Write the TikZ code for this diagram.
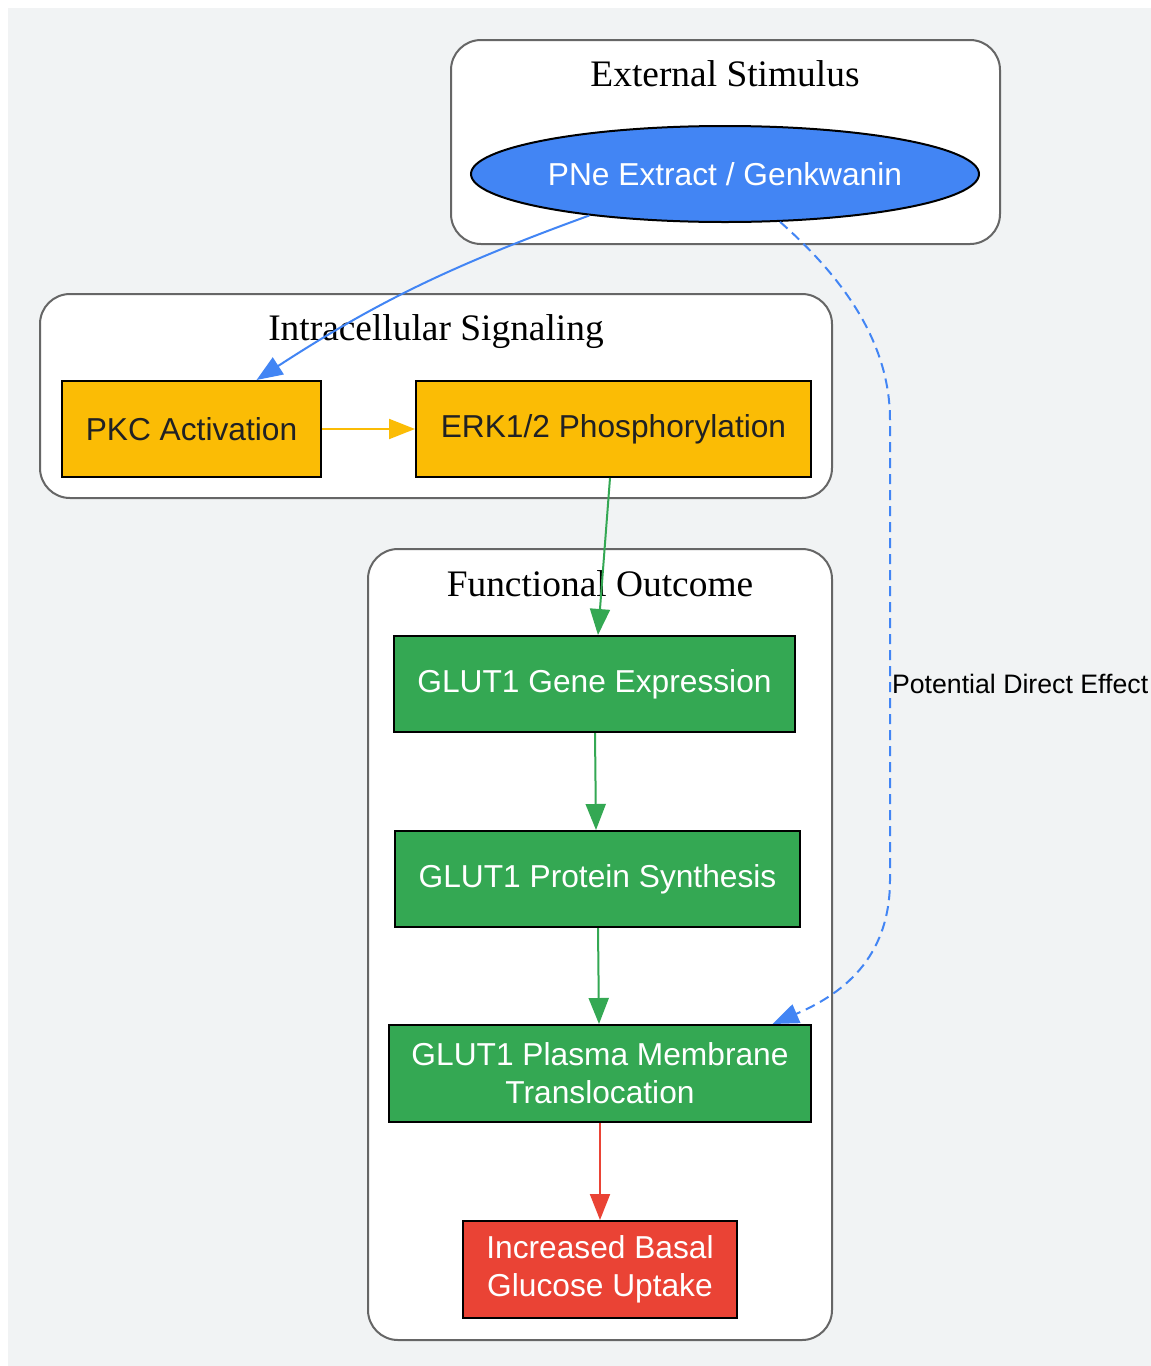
\documentclass[tikz,border=0pt]{standalone}
\usepackage{xcolor}
\usepackage{fontspec}
\setmainfont{Liberation Serif}
\newfontfamily\arialfont{Liberation Sans}
\usepackage{tikz}
\usetikzlibrary{shapes,arrows.meta,positioning}

\definecolor{bggray}{HTML}{F1F3F4}
\definecolor{clustergray}{HTML}{666666}
\definecolor{gblue}{HTML}{4285F4}
\definecolor{gyellow}{HTML}{FBBC05}
\definecolor{ggreen}{HTML}{34A853}
\definecolor{gred}{HTML}{EA4335}
\definecolor{darktext}{HTML}{202124}

\tikzset{
    cluster/.style={draw=clustergray, line width=2pt, fill=white, rounded corners=30pt},
    clustertitle/.style={font=\fontsize{37.4}{42}\selectfont, inner sep=0pt},
    stepbox/.style={rectangle, draw=black, line width=2pt, inner sep=0pt,
        minimum height=96pt, font=\arialfont\fontsize{31.7}{38}\selectfont, align=center},
    flow/.style={line width=2pt, -{Triangle[length=26pt,width=20pt]}}
}

\begin{document}
\begin{tikzpicture}[x=1pt, y=-1pt]
                \useasboundingbox (0,0) rectangle (1151,1366);
                \fill[bggray] (8,8) rectangle (1151,1366);

                \draw[cluster] (451,40) rectangle (1000,244);
                \node[clustertitle] (exttitle) at (725,74) {External Stimulus};

                \draw[cluster] (40,294) rectangle (832,498);
                \node[clustertitle] (sigtitle) at (436,332) {Intracellular Signaling};

                \draw[cluster] (368,549) rectangle (832,1340);
                \node[clustertitle] (outtitle) at (600,584) {Functional Outcome};

                \node[
                    ellipse,
                    draw=black,
                    line width=2pt,
                    fill=gblue,
                    text=white,
                    minimum width=508pt,
                    minimum height=96pt,
                    inner sep=0pt,
                    font=\arialfont\fontsize{31.7}{38}\selectfont
                ] (ext) at (725,174) {PNe Extract / Genkwanin};

                \node[stepbox, fill=gyellow, text=darktext, minimum width=259pt] (pkc) at (191.5,429) {PKC Activation};
                \node[stepbox, fill=gyellow, text=darktext, minimum width=395pt] (erk) at (613.5,429) {ERK1/2 Phosphorylation};

                \node[stepbox, fill=ggreen, text=white, minimum width=401pt] (gene) at (594.5,684) {GLUT1 Gene Expression};
                \node[stepbox, fill=ggreen, text=white, minimum width=405pt] (protein) at (597.5,879) {GLUT1 Protein Synthesis};
                \node[stepbox, fill=ggreen, text=white, minimum width=422pt, minimum height=97pt] (plasma) at (600,1073.5) {GLUT1 Plasma Membrane\\Translocation};
                \node[stepbox, fill=gred, text=white, minimum width=274pt, minimum height=97pt] (uptake) at (600,1269.5) {Increased Basal\\Glucose Uptake};

                \draw[flow, gblue] (ext.197) to[out=200, in=33] (pkc.37);
                \draw[flow, gyellow] (pkc) -- (erk);
                \draw[flow, ggreen] (erk.south -| 610,0) -- (gene.north -| 598,0);
                \draw[flow, ggreen] (gene.south -| 595,0) -- (protein.north -| 596,0);
                \draw[flow, ggreen] (protein.south -| 598,0) -- (plasma.north -| 599,0);
                \draw[flow, gred] (plasma) -- (uptake);

                \draw[flow, gblue, dash pattern=on 10pt off 6pt]
                    (ext.-41) .. controls (840,275) and (890,340) .. (890,420)
                    -- node[pos=0.574, anchor=west, inner sep=1pt, text=black,
                            font=\arialfont\fontsize{26.7}{30}\selectfont] (directlabel) {Potential Direct Effect}
                    (890,880) .. controls (890,960) and (840,995) .. (plasma.16);

            \end{tikzpicture}
\end{document}
